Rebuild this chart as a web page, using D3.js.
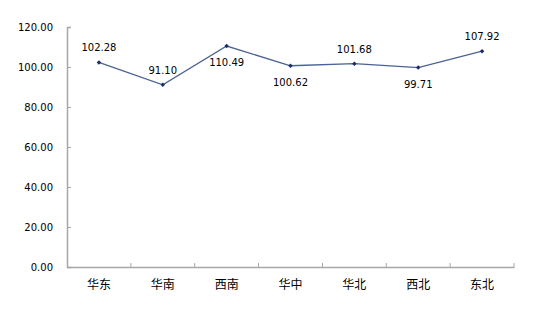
<!DOCTYPE html>
<html>
<head>
<meta charset="utf-8">
<script src="https://cdn.jsdelivr.net/npm/d3@7"></script>
<style>
  body { margin: 0; background: #fff; }
  svg text { font-family: "DejaVu Sans", Verdana, sans-serif !important; font-size: 10px !important; fill: #000; }
  svg .cat text { font-family: "Noto Sans CJK SC", sans-serif !important; font-size: 12px !important; }
</style>
</head>
<body>
<svg width="548" height="312"></svg>
<script>
let categories = ["华东", "华南", "西南", "华中", "华北", "西北", "东北"];
let values = [102.28, 91.10, 110.49, 100.62, 101.68, 99.71, 107.92];
// label above (1) or below (0) the point
let labelAbove = [1, 1, 0, 0, 1, 0, 1];
let yTicks = [0, 20, 40, 60, 80, 100, 120];

let svg = d3.select("svg"),
    margin = {top: 27, right: 34, bottom: 45, left: 67},
    width = 548 - margin.left - margin.right,
    height = 312 - margin.top - margin.bottom;

let g = svg.append("g")
    .attr("transform", "translate(" + margin.left + "," + margin.top + ")");

let x = d3.scaleBand().domain(categories).range([0, width]);
let y = d3.scaleLinear().domain([0, 120]).range([height, 0]);

// y axis
let yAxis = g.append("g")
    .call(d3.axisLeft(y).tickValues(yTicks).tickSize(-4).tickPadding(14)
        .tickFormat(d3.format(".2f")));
yAxis.select(".domain").attr("stroke", "#a6a6a6").attr("stroke-width", 1.5);
yAxis.selectAll(".tick line").attr("stroke", "#a6a6a6");

// x axis, ticks on band edges
let xAxis = g.append("g")
    .attr("class", "cat")
    .attr("transform", "translate(0," + height + ")")
    .call(d3.axisBottom(x).tickSize(0).tickPadding(13));
xAxis.select(".domain").attr("stroke", "#a6a6a6").attr("stroke-width", 1.5);
xAxis.selectAll("text").attr("dy", "0.71em");
g.append("g")
    .selectAll("line")
    .data(categories)
    .enter()
    .append("line")
    .attr("x1", function(d) { return x(d) + x.bandwidth(); })
    .attr("x2", function(d) { return x(d) + x.bandwidth(); })
    .attr("y1", height)
    .attr("y2", height - 4)
    .attr("stroke", "#a6a6a6");

let line = d3.line()
    .x(function(d, i) { return x(categories[i]) + x.bandwidth() / 2; })
    .y(function(d) { return y(d); });

g.append("path")
    .datum(values)
    .attr("fill", "none")
    .attr("stroke", "#4a6294")
    .attr("stroke-width", 1.3)
    .attr("d", line);

g.selectAll(".pt")
    .data(values)
    .enter()
    .append("path")
    .attr("class", "pt")
    .attr("d", d3.symbol(d3.symbolSquare, 10)())
    .attr("transform", function(d, i) {
        return "translate(" + (x(categories[i]) + x.bandwidth() / 2) + "," + y(d) + ") rotate(45)";
    })
    .attr("fill", "#1b2a6b");

g.selectAll(".lbl")
    .data(values)
    .enter()
    .append("text")
    .attr("class", "lbl")
    .attr("x", function(d, i) { return x(categories[i]) + x.bandwidth() / 2; })
    .attr("y", function(d, i) { return y(d) + (labelAbove[i] ? -11 : 20); })
    .attr("text-anchor", "middle")
    .text(function(d) { return d3.format(".2f")(d); });
</script>
</body>
</html>
